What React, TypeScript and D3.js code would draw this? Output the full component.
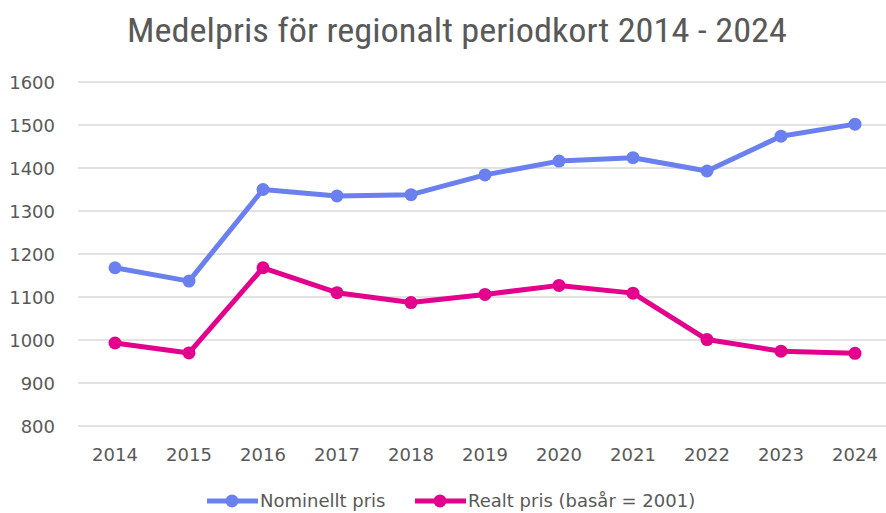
import React, { useEffect, useRef } from 'react';
import * as d3 from 'd3';

const years = ['2014', '2015', '2016', '2017', '2018', '2019', '2020', '2021', '2022', '2023', '2024'];
const nominal = [1168, 1137, 1350, 1335, 1338, 1384, 1416, 1424, 1393, 1474, 1502];
const real = [993, 970, 1168, 1110, 1087, 1106, 1127, 1109, 1001, 974, 969];
const yTicks = [800, 900, 1000, 1100, 1200, 1300, 1400, 1500, 1600];
const seriesNames = ['Nominellt pris', 'Realt pris (basår = 2001)'];
const seriesColors = ['#6A80EE', '#E3008C'];

export default function App() {
  const ref = useRef<SVGSVGElement>(null);

  useEffect(() => {
    const width = 886, height = 513;
    const svg = d3.select(ref.current);
    svg.selectAll('*').remove();

    const font = "'DejaVu Sans', Verdana, sans-serif";
    const textColor = '#595959';

    let x = d3.scalePoint().domain(years).range([115, 855]);
    let y = d3.scaleLinear().domain([800, 1600]).range([426, 82]);

    svg.append('rect').attr('width', width).attr('height', height).attr('fill', '#fff');

    // title
    svg.append('text')
      .attr('x', 127).attr('y', 42)
      .attr('textLength', 660)
      .attr('lengthAdjust', 'spacingAndGlyphs')
      .style('font-family', "'Roboto Condensed', 'Liberation Sans Narrow', Arial, sans-serif")
      .style('font-size', 34)
      .attr('fill', textColor)
      .text('Medelpris för regionalt periodkort 2014 - 2024');

    // gridlines
    svg.append('g').selectAll('line')
      .data(yTicks).enter().append('line')
      .attr('x1', 78).attr('x2', 886)
      .attr('y1', d => y(d)).attr('y2', d => y(d))
      .attr('stroke', '#d9d9d9').attr('stroke-width', 1.3);

    // y labels
    svg.append('g').selectAll('text')
      .data(yTicks).enter().append('text')
      .attr('x', 55).attr('y', d => y(d) + 6.5)
      .attr('text-anchor', 'end')
      .style('font-family', font).style('font-size', 18)
      .attr('fill', textColor)
      .text(d => d);

    // x labels
    svg.append('g').selectAll('text')
      .data(years).enter().append('text')
      .attr('x', d => x(d)!).attr('y', 461)
      .attr('text-anchor', 'middle')
      .style('font-family', font).style('font-size', 18)
      .attr('fill', textColor)
      .text(d => d);

    const allSeries = [nominal, real];
    allSeries.forEach((vals, i) => {
      const pts = vals.map((v, j) => ({ year: years[j], v }));
      svg.append('path')
        .datum(pts)
        .attr('d', d3.line<{ year: string; v: number }>()
          .x(d => x(d.year)!)
          .y(d => y(d.v)))
        .attr('fill', 'none')
        .attr('stroke', seriesColors[i])
        .attr('stroke-width', 5)
        .attr('stroke-linejoin', 'round');
      svg.append('g').selectAll('circle')
        .data(pts).enter().append('circle')
        .attr('cx', d => x(d.year)!)
        .attr('cy', d => y(d.v))
        .attr('r', 6.5)
        .attr('fill', seriesColors[i]);
    });

    // legend (kept just inside the bottom edge)
    const legendX = [207, 415];
    seriesNames.forEach((name, i) => {
      const g = svg.append('g').attr('transform', `translate(${legendX[i]},501)`);
      g.append('line').attr('x1', 0).attr('x2', 51).attr('y1', 0).attr('y2', 0)
        .attr('stroke', seriesColors[i]).attr('stroke-width', 5);
      g.append('circle').attr('cx', 25).attr('cy', 0).attr('r', 6.5).attr('fill', seriesColors[i]);
      g.append('text').attr('x', 53).attr('y', 6)
        .style('font-family', font).style('font-size', 18)
        .attr('fill', textColor)
        .text(name);
    });
  }, []);

  return (
    <svg ref={ref} width={886} height={513} style={{ display: 'block', position: 'absolute', left: 0, top: 0 }} />
  );
}
